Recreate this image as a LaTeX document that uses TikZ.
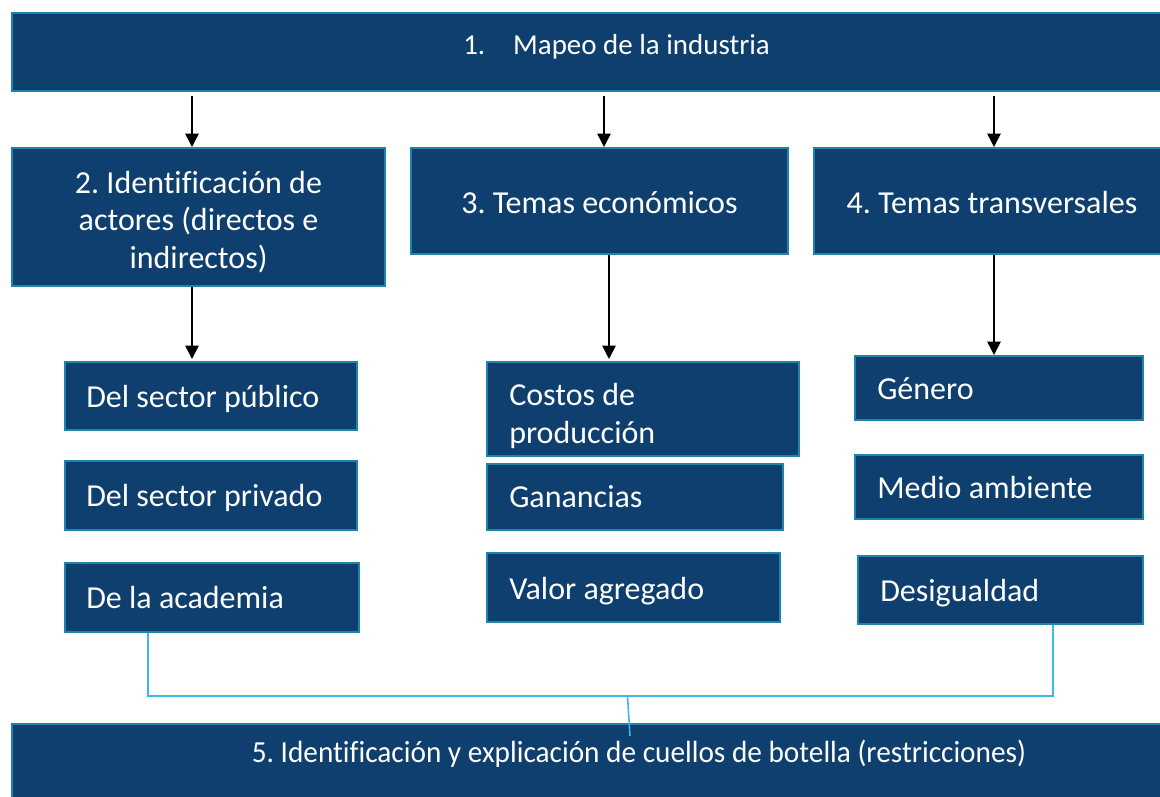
\documentclass[tikz,border=0pt]{standalone}
\usepackage{fontspec}
\setmainfont[Ligatures=NoCommon]{Carlito}
\newfontfamily\condfont[Ligatures=NoCommon,FakeStretch=0.955]{Carlito}
\usetikzlibrary{arrows.meta}
\definecolor{boxfill}{HTML}{0E3F6E}
\definecolor{boxline}{HTML}{1D84AC}
\definecolor{connline}{HTML}{3DB8E8}
\newcommand\bx[5]{\node[boxbase, minimum width={(#4-#2)*0.75pt}, minimum height={(#5-#3)*0.75pt}] (#1) at ({(#2+#4)/2},{(#3+#5)/2}) {};}
\tikzset{
  boxbase/.style={draw=boxline, line width=1.5pt, fill=boxfill, inner sep=0pt},
  label/.style={text=white, inner sep=0pt, font=\frenchspacing\fontsize{24}{28}\selectfont},
  one/.style={label, text height=15.5pt, text depth=0pt},
  arr/.style={-{Triangle[length=10pt,width=10pt]}, line width=1.1pt, black},
  conn/.style={draw=connline, line width=1.2pt}
}
\begin{document}
\begin{tikzpicture}[x=0.75pt,y=-0.75pt]
\useasboundingbox (0,0) rectangle (1160,796);
\clip (0,0) rectangle (1160,796);
% main boxes
\bx{b1}{12}{13}{1220}{91}
\node[one, font=\frenchspacing\fontsize{21.7}{26}\selectfont, text height=14pt, anchor=west] (t1) at (463,45) {1.\hspace{21pt}Mapeo de la industria};
\bx{b2}{12}{148}{385}{286}
\node[label, align=center] (t2) at (198.5,222) {2. Identificación de\\actores (directos e\\indirectos)};
\bx{b3}{411}{148}{788}{254}
\node[one] (t3) at (599.5,203) {3. Temas económicos};
\bx{b4}{814}{148}{1170}{254}
\node[one] (t4) at (992,203) {4. Temas transversales};
\bx{b5}{12}{724}{1266}{830}
\node[one, font=\frenchspacing\condfont\fontsize{23}{28}\selectfont, text height=15pt] (t5) at (639,752) {5. Identificación y explicación de cuellos de botella (restricciones)};
% sub boxes
\bx{s11}{65}{362}{357}{430}
\node[one, anchor=west] (t11) at (86,397) {Del sector público};
\bx{s12}{65}{461}{357}{530}
\node[one, anchor=west] (t12) at (86,496) {Del sector privado};
\bx{s13}{65}{563}{359}{632}
\node[one, anchor=west] (t13) at (86,598) {De la academia};
\bx{s21}{487}{362}{799}{456}
\node[label, align=left, anchor=west] (t21) at (509,416) {Costos de\\producción};
\bx{s22}{487}{464}{783}{530}
\node[one, anchor=west] (t22) at (509,497) {Ganancias};
\bx{s23}{487}{553}{780}{622}
\node[one, anchor=west] (t23) at (509,589) {Valor agregado};
\bx{s31}{855}{356}{1143}{420}
\node[one, anchor=west] (t31) at (877,389) {Género};
\bx{s32}{855}{455}{1143}{519}
\node[one, anchor=west] (t32) at (877,488) {Medio ambiente};
\bx{s33}{858}{556}{1143}{624}
\node[one, anchor=west] (t33) at (880,591) {Desigualdad};
% arrow x positions
\coordinate (xa) at (192,0);
\coordinate (xb) at (604,0);
\coordinate (xc) at (994,0);
\coordinate (xd) at (609,0);
\draw[arr] ([yshift=-3pt]b1.south -| xa) -- (xa |- b2.north);
\draw[arr] ([yshift=-3pt]b1.south -| xb) -- (xb |- b3.north);
\draw[arr] ([yshift=-3pt]b1.south -| xc) -- (xc |- b4.north);
\draw[arr] (b2.south -| xa) -- ([yshift=1.5pt]xa |- s11.north);
\draw[arr] (b3.south -| xd) -- ([yshift=1.5pt]xd |- s21.north);
\draw[arr] (b4.south -| xc) -- (xc |- s31.north);
% bottom connector
\coordinate (cl) at (148,696);
\coordinate (cr) at (1053,696);
\coordinate (cm) at (627.5,696);
\coordinate (ce) at (630,736);
\draw[conn] (s13.south -| cl) -- (cl) -- (cr) -- (s33.south -| cr);
\draw[conn] (cm) -- (ce);
\end{tikzpicture}
\end{document}
